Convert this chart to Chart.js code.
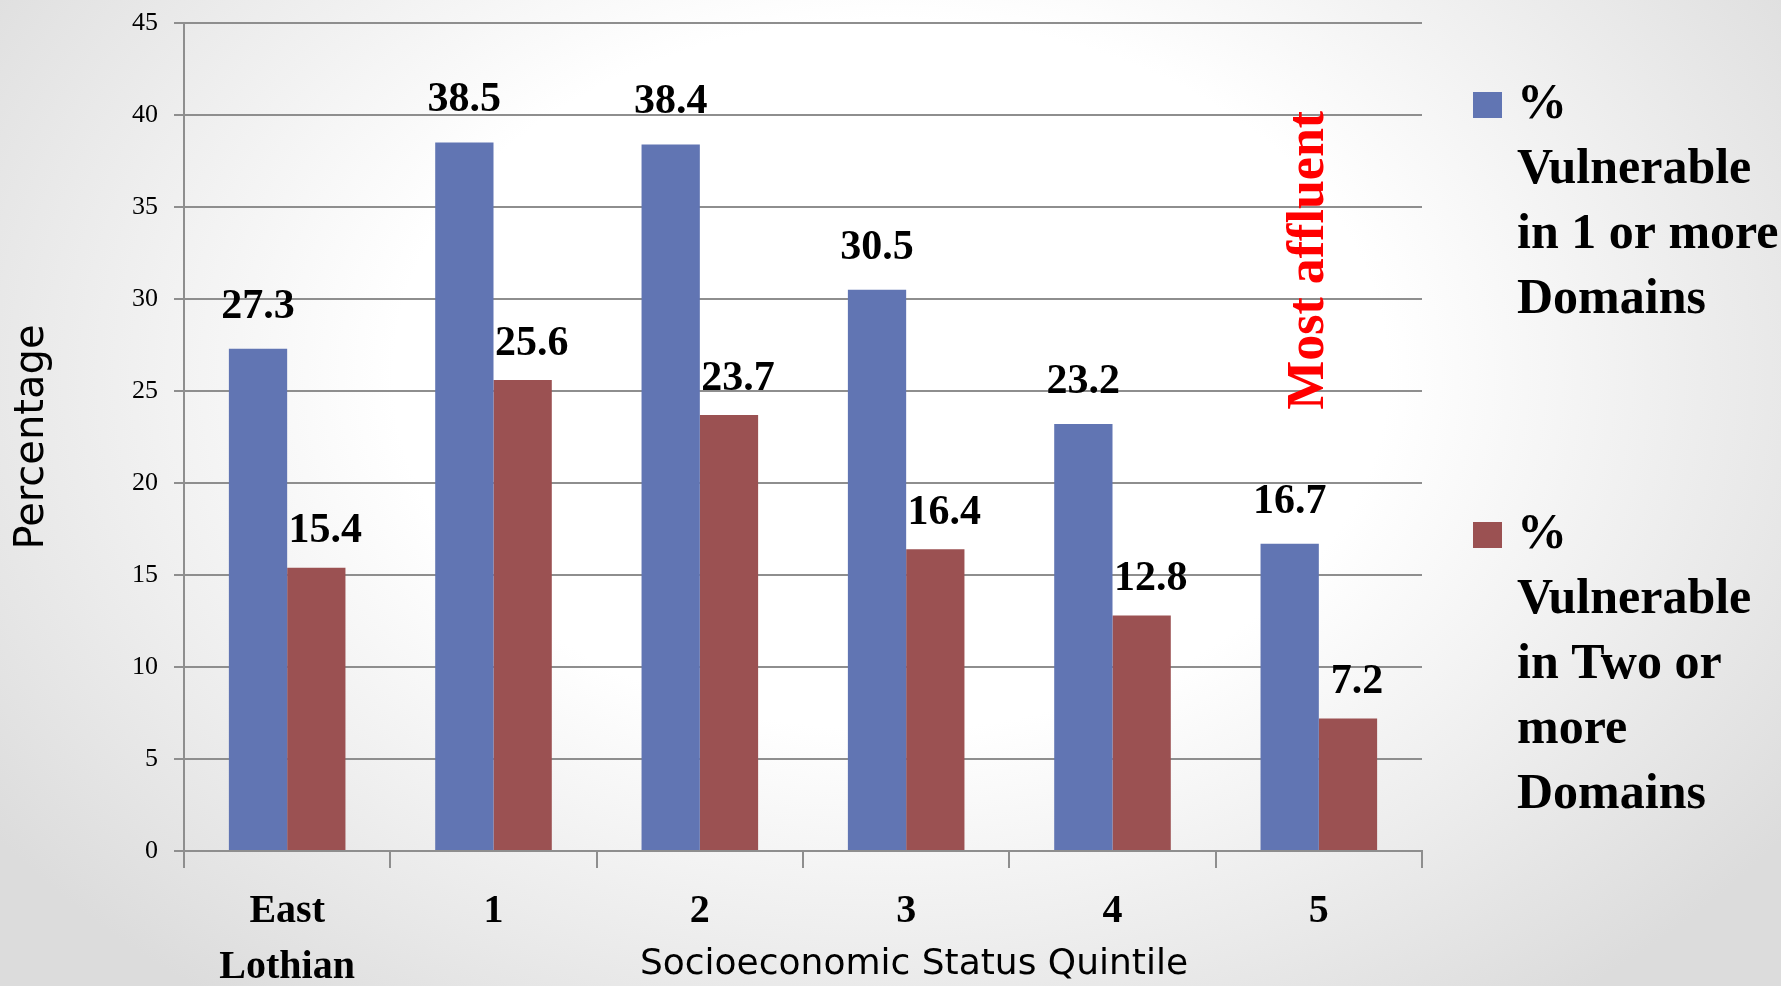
<!DOCTYPE html>
<html>
<head>
<meta charset="utf-8">
<title>Vulnerability by Socioeconomic Status Quintile</title>
<script src="https://cdn.jsdelivr.net/npm/chart.js@4.4.1/dist/chart.umd.min.js"></script>
<style>
  html, body {
    margin: 0;
    padding: 0;
    width: 1781px;
    height: 986px;
    overflow: hidden;
    background: radial-gradient(ellipse 62% 80% at 50% 38%, #ffffff 45%, #dcdcdc 100%);
  }
  .container {
    position: absolute;
    left: 0;
    top: 0;
    width: 1781px;
    height: 1012px;
  }
</style>
</head>
<body>
<div class="container">
  <canvas id="chart"></canvas>
</div>
<script>
const categories = [['East', 'Lothian'], '1', '2', '3', '4', '5'];
const vulnerableOneOrMore = [27.3, 38.5, 38.4, 30.5, 23.2, 16.7];
const vulnerableTwoOrMore = [15.4, 25.6, 23.7, 16.4, 12.8, 7.2];
const yTickValues = [0, 5, 10, 15, 20, 25, 30, 35, 40, 45];
const seriesNames = ['% Vulnerable in 1 or more Domains', '% Vulnerable in Two or more Domains'];
const legendLines = [
  ['%', 'Vulnerable', 'in 1 or more', 'Domains'],
  ['%', 'Vulnerable', 'in Two or', 'more', 'Domains'],
];
const xTitle = 'Socioeconomic Status Quintile';
const yTitle = 'Percentage';
const noteText = 'Most affluent';

const BLUE = '#6175b3';
const RED = '#9b5152';
const GRID = '#8e8e8e';

// value labels above bars
const valueLabels = {
  id: 'valueLabels',
  afterDatasetsDraw(chart) {
    const ctx = chart.ctx;
    ctx.save();
    ctx.font = 'bold 42px "Liberation Serif"';
    ctx.fillStyle = '#000';
    ctx.textAlign = 'center';
    ctx.textBaseline = 'middle';
    chart.data.datasets.forEach((ds, i) => {
      const meta = chart.getDatasetMeta(i);
      const dx = i === 0 ? 0 : 9;
      const gap = i === 0 ? 42 : 36;
      meta.data.forEach((bar, j) => {
        ctx.fillText(ds.data[j].toFixed(1), bar.x + dx, bar.y - gap);
      });
    });
    ctx.restore();
  },
};

// legend, x title and the red note
const extras = {
  id: 'extras',
  afterDraw(chart) {
    const ctx = chart.ctx;
    const area = chart.chartArea;
    const x = chart.scales.x;
    const y = chart.scales.y;
    ctx.save();

    // legend
    const tops = [area.top + 69, area.top + 499];
    ctx.font = 'bold 50px "Liberation Serif"';
    ctx.textAlign = 'left';
    ctx.textBaseline = 'middle';
    chart.data.datasets.forEach((ds, i) => {
      const top = tops[i];
      ctx.fillStyle = ds.backgroundColor;
      ctx.fillRect(area.right + 51, top, 29, 26);
      ctx.fillStyle = '#000';
      legendLines[i].forEach((line, k) => {
        ctx.fillText(line, area.right + 95, top + 13 + k * 65);
      });
    });

    // x axis title
    ctx.font = '36px "DejaVu Sans"';
    ctx.textAlign = 'center';
    ctx.fillStyle = '#000';
    ctx.fillText(xTitle, area.left + 730, area.bottom + 114);

    // rotated note
    ctx.translate(x.getPixelForValue(5) - 9, y.getPixelForValue(32.1));
    ctx.rotate(-Math.PI / 2);
    ctx.font = 'bold 52px "Liberation Serif"';
    ctx.fillStyle = '#ff0000';
    ctx.fillText(noteText, 0, 0);
    ctx.restore();
  },
};

function renderChart() {
  const ctx = document.getElementById('chart');
  window._chart = new Chart(ctx, {
    type: 'bar',
    data: {
      labels: categories,
      datasets: [
        {
          label: seriesNames[0],
          data: vulnerableOneOrMore,
          backgroundColor: BLUE,
          categoryPercentage: 0.565,
          barPercentage: 1,
        },
        {
          label: seriesNames[1],
          data: vulnerableTwoOrMore,
          backgroundColor: RED,
          categoryPercentage: 0.565,
          barPercentage: 1,
        },
      ],
    },
    options: {
      responsive: true,
      maintainAspectRatio: false,
      animation: false,
      layout: { padding: { top: 23, right: 359, bottom: 0, left: 0 } },
      plugins: {
        legend: { display: false },
        tooltip: { enabled: false },
      },
      scales: {
        x: {
          grid: {
            drawOnChartArea: false,
            drawTicks: true,
            tickLength: 17,
            color: GRID,
            lineWidth: 2,
          },
          border: { display: true, color: GRID, width: 2 },
          ticks: {
            color: '#000',
            padding: 16,
            maxRotation: 0,
            font: { family: '"Liberation Serif"', size: 40, weight: 'bold', lineHeight: 1.4 },
          },
        },
        y: {
          min: 0,
          max: 45,
          afterBuildTicks: (scale) => {
            scale.ticks = yTickValues.map((v) => ({ value: v }));
          },
          afterFit: (scale) => {
            scale.paddingTop = 0;
            scale.paddingBottom = 0;
          },
          grid: {
            color: GRID,
            lineWidth: 2,
            tickLength: 10,
          },
          border: { display: true, color: GRID, width: 2 },
          ticks: {
            color: '#000',
            padding: 16,
            font: { family: '"Liberation Serif"', size: 26 },
          },
          title: {
            display: true,
            text: yTitle,
            color: '#000',
            font: { family: '"DejaVu Sans"', size: 40 },
            padding: { top: 9, bottom: 59 },
          },
        },
      },
    },
    plugins: [valueLabels, extras],
  });
}

document.addEventListener('DOMContentLoaded', renderChart);
</script>
</body>
</html>
